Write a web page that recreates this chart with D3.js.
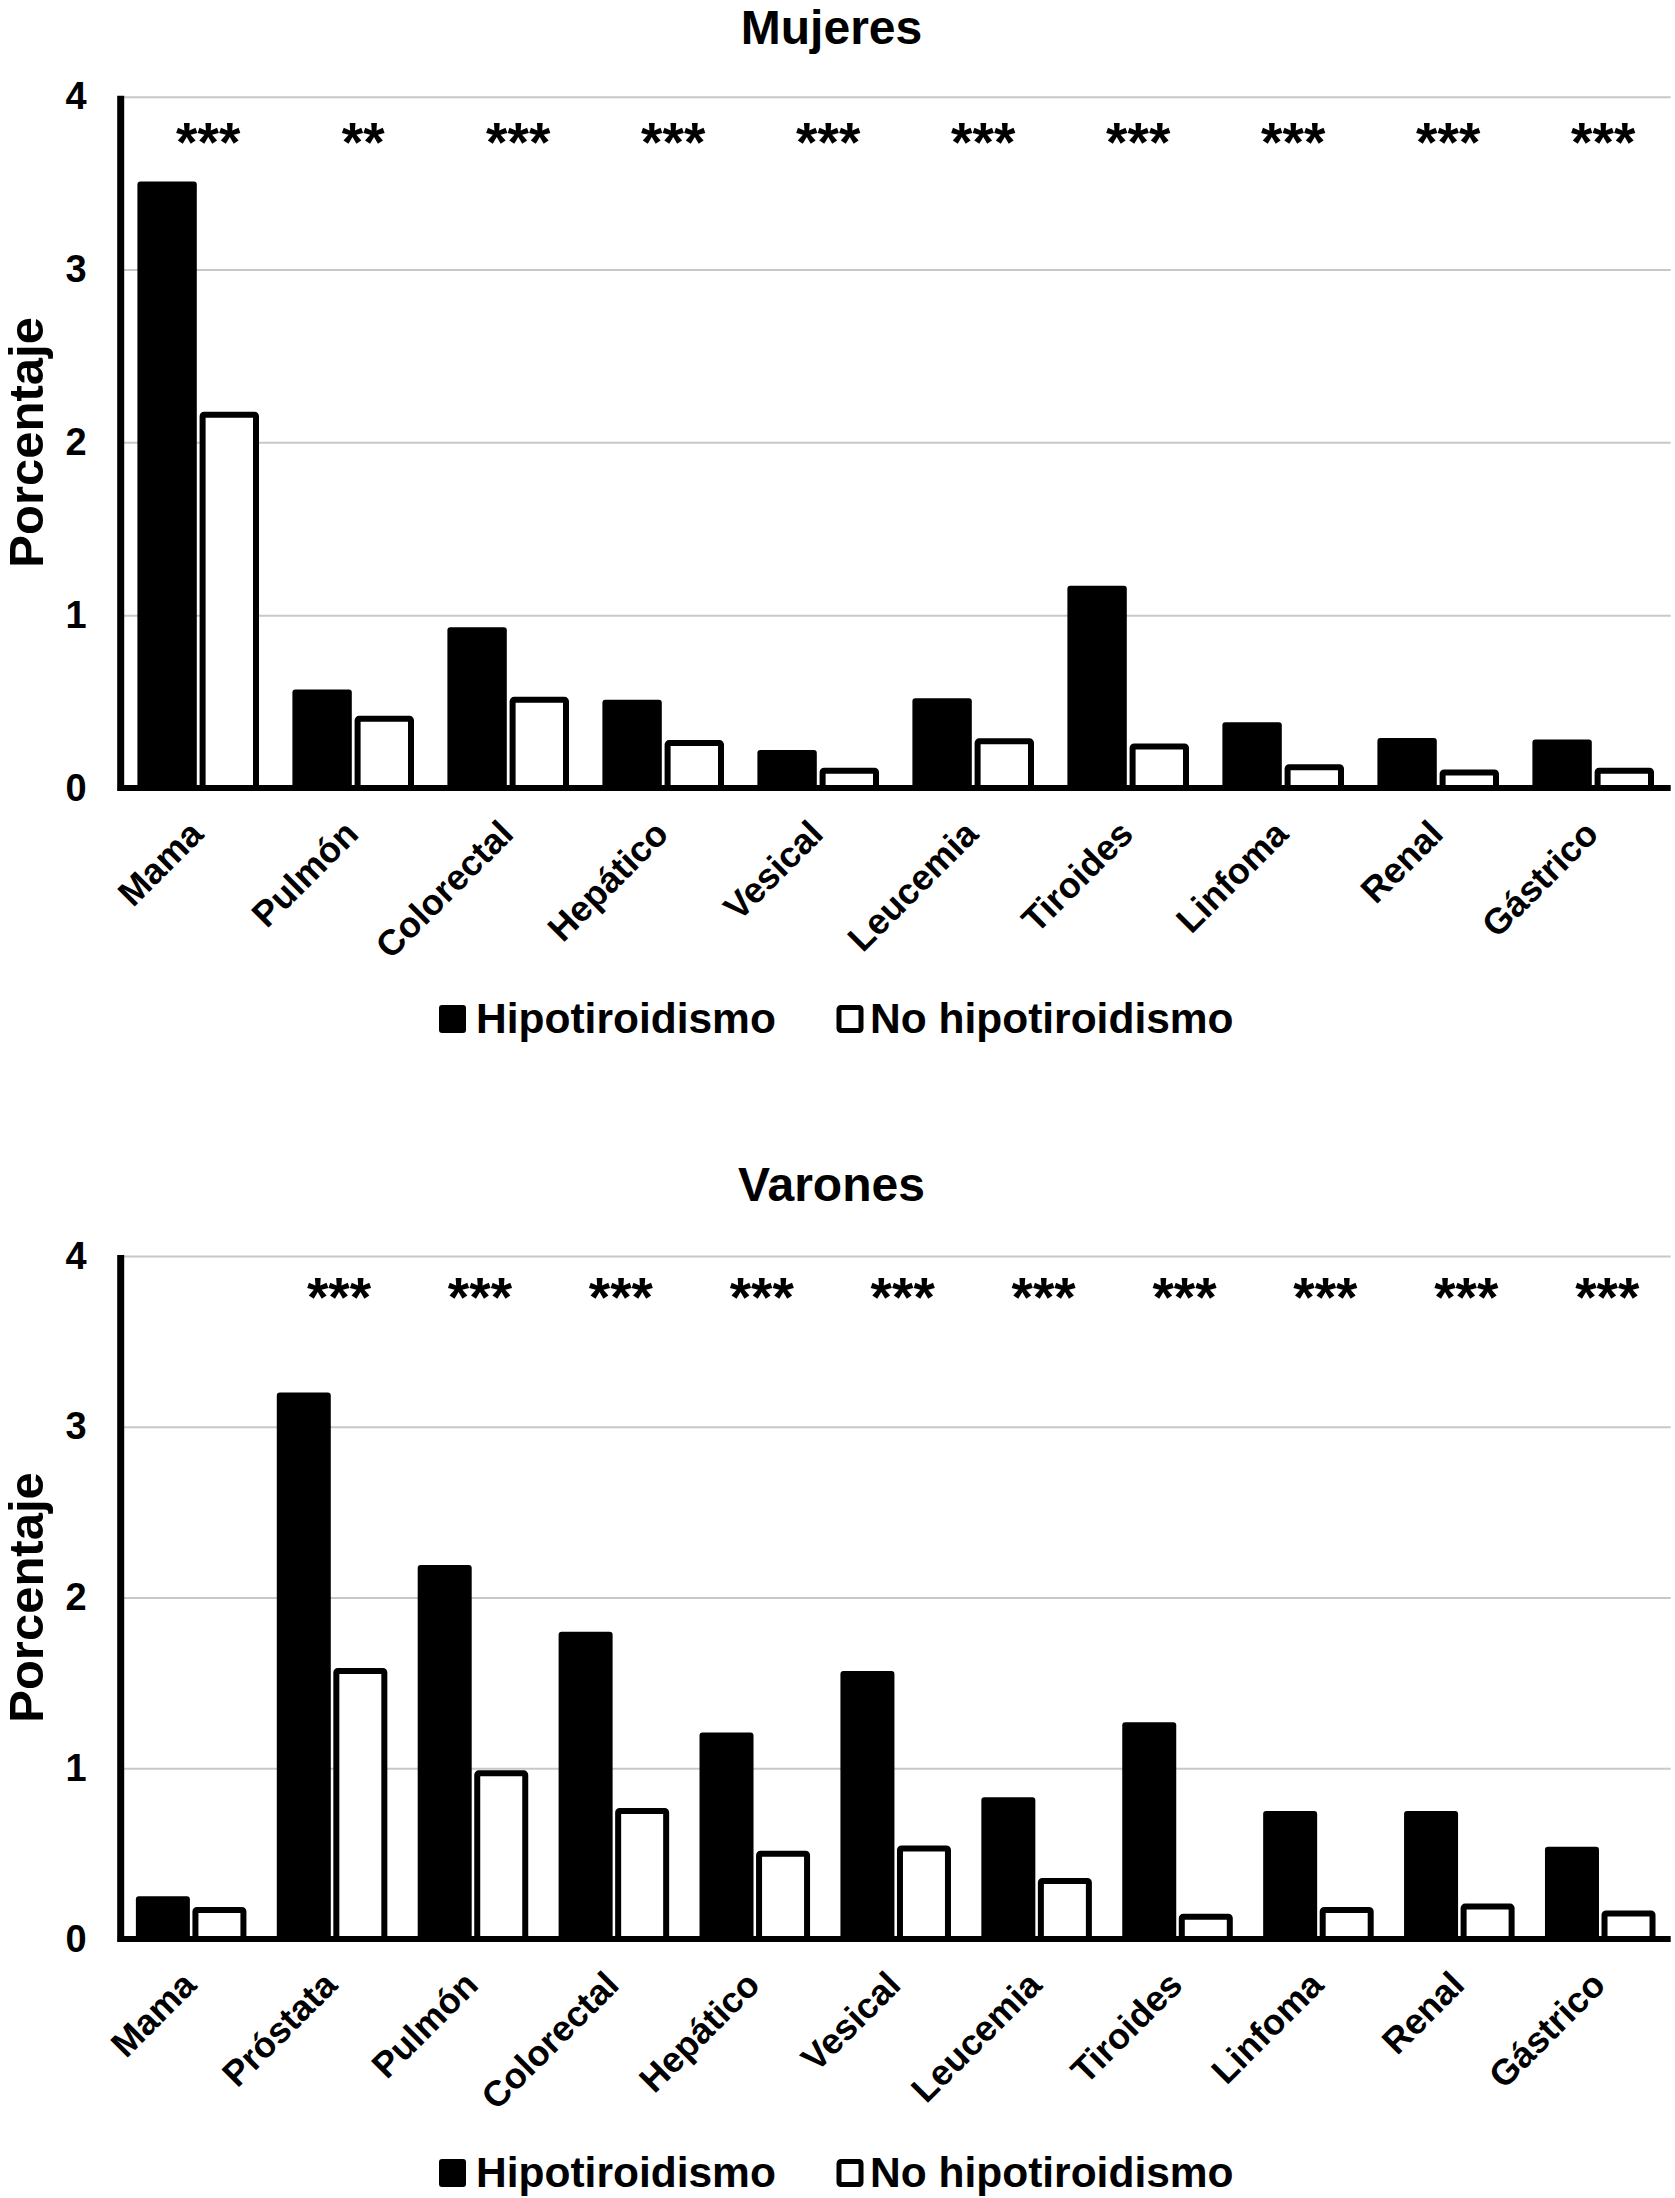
<!DOCTYPE html>
<html>
<head>
<meta charset="utf-8">
<script src="https://cdn.jsdelivr.net/npm/d3@7"></script>
<style>
  html, body { margin: 0; padding: 0; background: #fff; }
  svg { display: block; }
  text { font-family: "Liberation Sans", Arial, sans-serif; font-weight: bold; fill: #000; }
</style>
</head>
<body>
<svg id="chart" width="1675" height="2198"></svg>
<script>
// ---- Data ----
const yTicks = [0, 1, 2, 3, 4];
const seriesNames = ["Hipotiroidismo", "No hipotiroidismo"];

const catsMujeres = ["Mama", "Pulmón", "Colorectal", "Hepático", "Vesical", "Leucemia", "Tiroides", "Linfoma", "Renal", "Gástrico"];
const hipoMujeres = [3.51, 0.57, 0.93, 0.51, 0.22, 0.52, 1.17, 0.38, 0.29, 0.28];
const noHipoMujeres = [2.16, 0.40, 0.51, 0.26, 0.10, 0.27, 0.24, 0.12, 0.09, 0.10];
const sigMujeres = ["***", "**", "***", "***", "***", "***", "***", "***", "***", "***"];

const catsVarones = ["Mama", "Próstata", "Pulmón", "Colorectal", "Hepático", "Vesical", "Leucemia", "Tiroides", "Linfoma", "Renal", "Gástrico"];
const hipoVarones = [0.25, 3.20, 2.19, 1.80, 1.21, 1.57, 0.83, 1.27, 0.75, 0.75, 0.54];
const noHipoVarones = [0.17, 1.57, 0.97, 0.75, 0.50, 0.53, 0.34, 0.13, 0.17, 0.19, 0.15];
const sigVarones = ["", "***", "***", "***", "***", "***", "***", "***", "***", "***", "***"];

// ---- Layout ----
const panels = [
  { title: "Mujeres", cats: catsMujeres, hipo: hipoMujeres, noHipo: noHipoMujeres, sig: sigMujeres,
    yTop: 96.7, yZero: 788, titleY: 44, legendY: 1033, sigDy: 64.5, sigDx: 10 },
  { title: "Varones", cats: catsVarones, hipo: hipoVarones, noHipo: noHipoVarones, sig: sigVarones,
    yTop: 1256, yZero: 1939, titleY: 1201, legendY: 2187, sigDy: 59.5, sigDx: 7 }
];
const xLeft = 120.7, xRight = 1670.7;
const svg = d3.select("#chart");

panels.forEach(p => {
  const g = svg.append("g");
  const y = d3.scaleLinear().domain([0, 4]).range([p.yZero, p.yTop]);
  const x0 = d3.scaleBand().domain(p.cats).range([xLeft, xRight]).paddingInner(0.2155).paddingOuter(0.2155 / 2);
  const x1 = d3.scaleBand().domain(seriesNames).range([0, x0.bandwidth()]).paddingInner(0.045).paddingOuter(0);

  // title
  g.append("text").attr("x", 831.5).attr("y", p.titleY)
    .attr("text-anchor", "middle").style("font-size", "48px").text(p.title);

  // gridlines + y tick labels
  const yAxis = d3.axisLeft(y).tickValues(yTicks).tickFormat(d3.format("d"))
    .tickSize(-(xRight - xLeft)).tickPadding(34);
  const ga = g.append("g").attr("transform", `translate(${xLeft},0)`).call(yAxis);
  ga.select(".domain").remove();
  ga.selectAll(".tick line").attr("stroke", "#c8c8c8").attr("stroke-width", 2);
  ga.selectAll(".tick text").style("font-size", "38px").style("font-family", "Liberation Sans, Arial, sans-serif")
    .style("font-weight", "bold").attr("fill", "#000");

  // y axis title
  g.append("text")
    .attr("transform", `translate(43,${(p.yTop + p.yZero) / 2}) rotate(-90)`)
    .attr("text-anchor", "middle").style("font-size", "49px").text("Porcentaje");

  // bars
  const rows = p.cats.map((c, i) => ({ cat: c, vals: [p.hipo[i], p.noHipo[i]], sig: p.sig[i] }));
  const groups = g.selectAll(".grp").data(rows).enter().append("g")
    .attr("transform", d => `translate(${x0(d.cat)},0)`);
  const sw = 6;
  groups.append("rect")
    .attr("x", x1(seriesNames[0])).attr("width", x1.bandwidth())
    .attr("y", d => y(d.vals[0])).attr("height", d => y(0) - y(d.vals[0]))
    .attr("rx", 3).attr("fill", "#000");
  groups.append("rect")
    .attr("x", x1(seriesNames[1]) + sw / 2).attr("width", x1.bandwidth() - sw)
    .attr("y", d => y(d.vals[1])).attr("height", d => y(0) - y(d.vals[1]))
    .attr("rx", 1.5).attr("fill", "#fff").attr("stroke", "#000").attr("stroke-width", sw);

  // significance asterisks
  groups.append("text")
    .attr("x", x0.bandwidth() / 2 + p.sigDx).attr("y", p.yTop + p.sigDy)
    .attr("text-anchor", "middle").style("font-size", "55px").text(d => d.sig);

  // x axis with rotated labels
  const xAxis = d3.axisBottom(x0).tickSize(0).tickPadding(0);
  const gx = g.append("g").attr("transform", `translate(0,${p.yZero})`).call(xAxis);
  gx.select(".domain").remove();
  gx.selectAll(".tick text")
    .attr("y", 0).attr("dy", 0)
    .attr("text-anchor", "end")
    .attr("transform", "translate(7,48) rotate(-45)")
    .style("font-size", "36px").style("font-family", "Liberation Sans, Arial, sans-serif")
    .style("font-weight", "bold").attr("fill", "#000");

  // axis lines
  g.append("line").attr("x1", xLeft).attr("x2", xLeft).attr("y1", p.yTop - 1).attr("y2", p.yZero + 3)
    .attr("stroke", "#000").attr("stroke-width", 7);
  g.append("line").attr("x1", xLeft - 3).attr("x2", xRight).attr("y1", p.yZero).attr("y2", p.yZero)
    .attr("stroke", "#000").attr("stroke-width", 6);

  // legend
  const lg = g.append("g");
  lg.append("rect").attr("x", 439).attr("y", p.legendY - 28).attr("width", 27).attr("height", 28)
    .attr("rx", 3).attr("fill", "#000");
  lg.append("text").attr("x", 476).attr("y", p.legendY).style("font-size", "42.5px").text(seriesNames[0]);
  lg.append("rect").attr("x", 839).attr("y", p.legendY - 25.5).attr("width", 22).attr("height", 23)
    .attr("rx", 2).attr("fill", "#fff").attr("stroke", "#000").attr("stroke-width", 5);
  lg.append("text").attr("x", 870).attr("y", p.legendY).style("font-size", "42.5px").text(seriesNames[1]);
});
</script>
</body>
</html>
